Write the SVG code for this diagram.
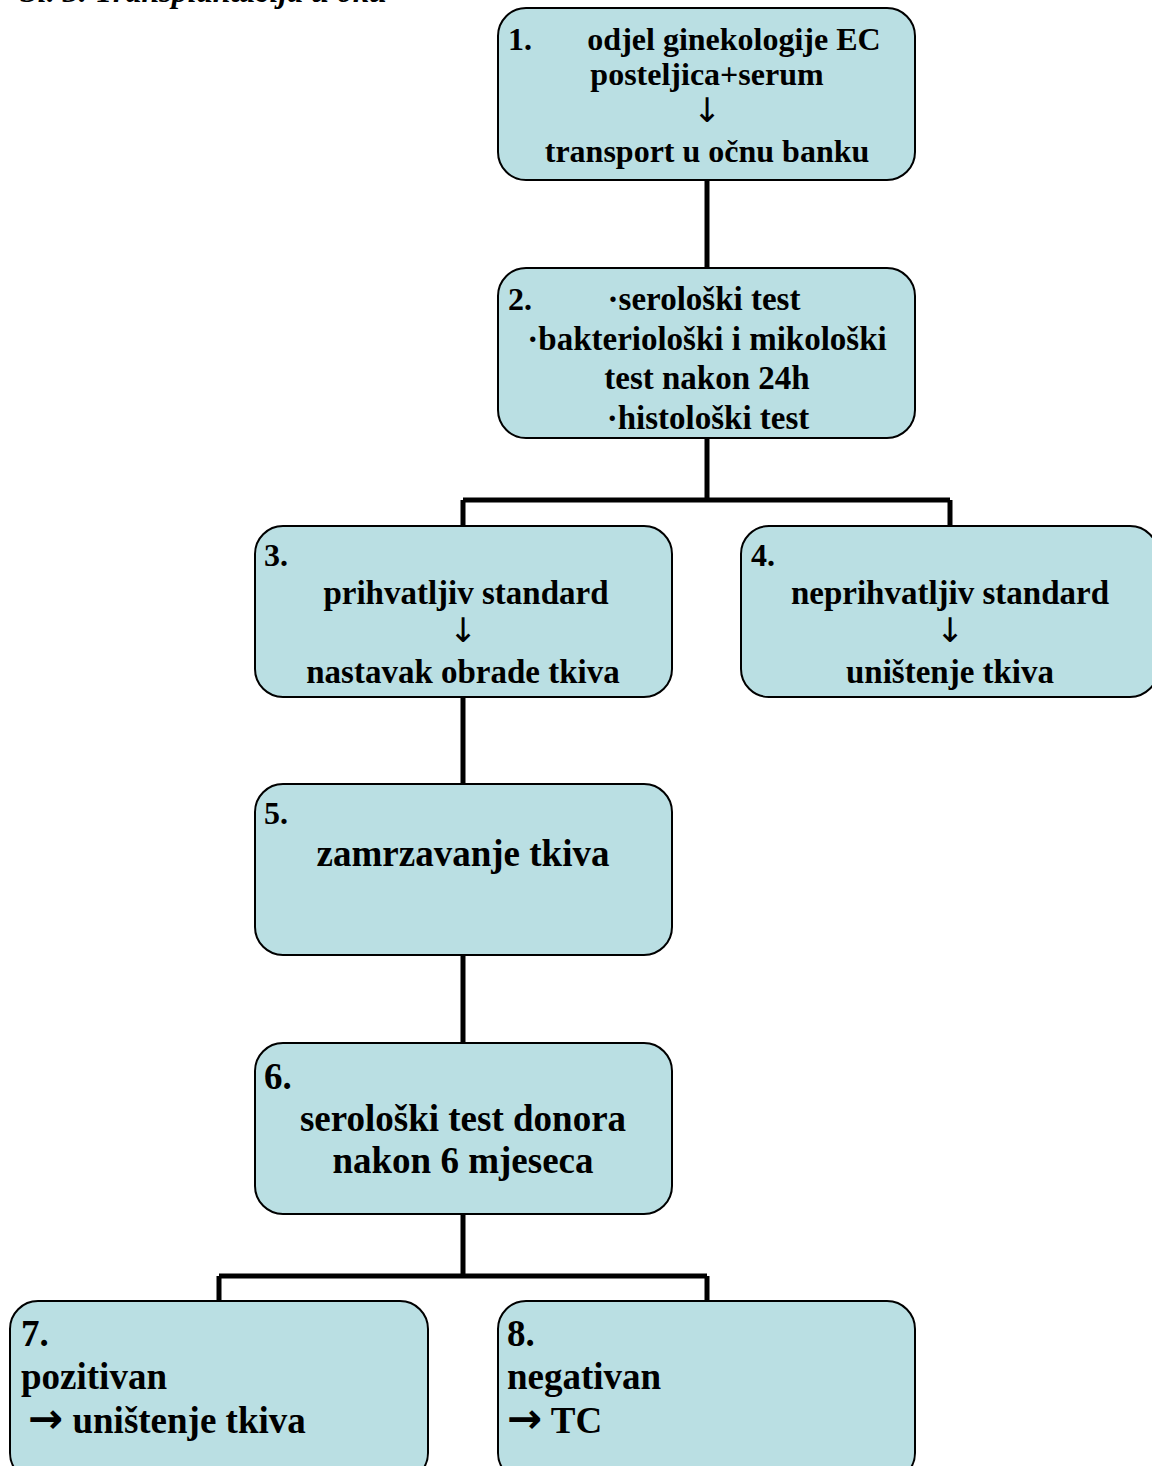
<svg xmlns="http://www.w3.org/2000/svg" width="1152" height="1466" viewBox="0 0 1152 1466">
<style>
.box{fill:#badfe3;stroke:#000;stroke-width:2}
.t{font-family:"Liberation Serif","Times New Roman",serif;font-weight:bold;fill:#000}
.c{text-anchor:middle}
.f32{font-size:32px}
.f33{font-size:33px}
.f37{font-size:37px}
.ar{font-family:"DejaVu Sans",sans-serif;font-weight:normal;font-size:34px}
.ar2{font-family:"DejaVu Sans",sans-serif;font-weight:bold;font-size:42px}
.conn{fill:none;stroke:#000;stroke-width:5}
</style>
<rect width="1152" height="1466" fill="#fff"/>
<text class="t" x="20" y="2" font-size="32" font-style="italic">Sl. 3. Transplantacija u oku</text>
<g id="connectors">
<path class="conn" d="M707 180V268"/>
<path class="conn" d="M707 438V500M463 500H950M463 500V526M950 500V526"/>
<path class="conn" d="M463 697V784"/>
<path class="conn" d="M463 955V1043"/>
<path class="conn" d="M463 1214V1276M219 1276H707M219 1276V1301M707 1276V1301"/>
</g>
<g id="node1">
<rect class="box" x="498" y="8" width="417" height="172" rx="28"/>
<text class="t f32" x="508" y="50">1.</text>
<text class="t f32 c" x="734" y="50">odjel ginekologije EC</text>
<text class="t f32 c" x="707" y="85">posteljica+serum</text>
<text class="t ar c" x="707" y="122">↓</text>
<text class="t f32 c" x="707" y="162">transport u očnu banku</text>
</g>
<g id="node2">
<rect class="box" x="498" y="268" width="417" height="170" rx="28"/>
<text class="t f32" x="508" y="310">2.</text>
<text class="t f33 c" x="704" y="310">·serološki test</text>
<text class="t f33 c" x="707" y="350">·bakteriološki i mikološki</text>
<text class="t f33 c" x="707" y="389">test nakon 24h</text>
<text class="t f33 c" x="708" y="429">·histološki test</text>
</g>
<g id="node3">
<rect class="box" x="255" y="526" width="417" height="171" rx="28"/>
<text class="t f32" x="264" y="566">3.</text>
<text class="t f33 c" x="466" y="604">prihvatljiv standard</text>
<text class="t ar c" x="463" y="642">↓</text>
<text class="t f33 c" x="463" y="683">nastavak obrade tkiva</text>
</g>
<g id="node4">
<rect class="box" x="741" y="526" width="417" height="171" rx="28"/>
<text class="t f32" x="751" y="566">4.</text>
<text class="t f33 c" x="950" y="604">neprihvatljiv standard</text>
<text class="t ar c" x="950" y="642">↓</text>
<text class="t f33 c" x="950" y="683">uništenje tkiva</text>
</g>
<g id="node5">
<rect class="box" x="255" y="784" width="417" height="171" rx="28"/>
<text class="t f32" x="264" y="824">5.</text>
<text class="t f37 c" x="463" y="866">zamrzavanje tkiva</text>
</g>
<g id="node6">
<rect class="box" x="255" y="1043" width="417" height="171" rx="28"/>
<text class="t f37" x="264" y="1089">6.</text>
<text class="t f37 c" x="463" y="1131">serološki test donora</text>
<text class="t f37 c" x="463" y="1173">nakon 6 mjeseca</text>
</g>
<g id="node7">
<rect class="box" x="10" y="1301" width="418" height="180" rx="28"/>
<text class="t f37" x="21" y="1346">7.</text>
<text class="t f37" x="21" y="1389">pozitivan</text>
<text class="t f37" x="28" y="1433"><tspan class="ar2">→</tspan> uništenje tkiva</text>
</g>
<g id="node8">
<rect class="box" x="498" y="1301" width="417" height="180" rx="28"/>
<text class="t f37" x="507" y="1346">8.</text>
<text class="t f37" x="507" y="1389">negativan</text>
<text class="t f37" x="507" y="1433"><tspan class="ar2">→</tspan> TC</text>
</g>
</svg>
